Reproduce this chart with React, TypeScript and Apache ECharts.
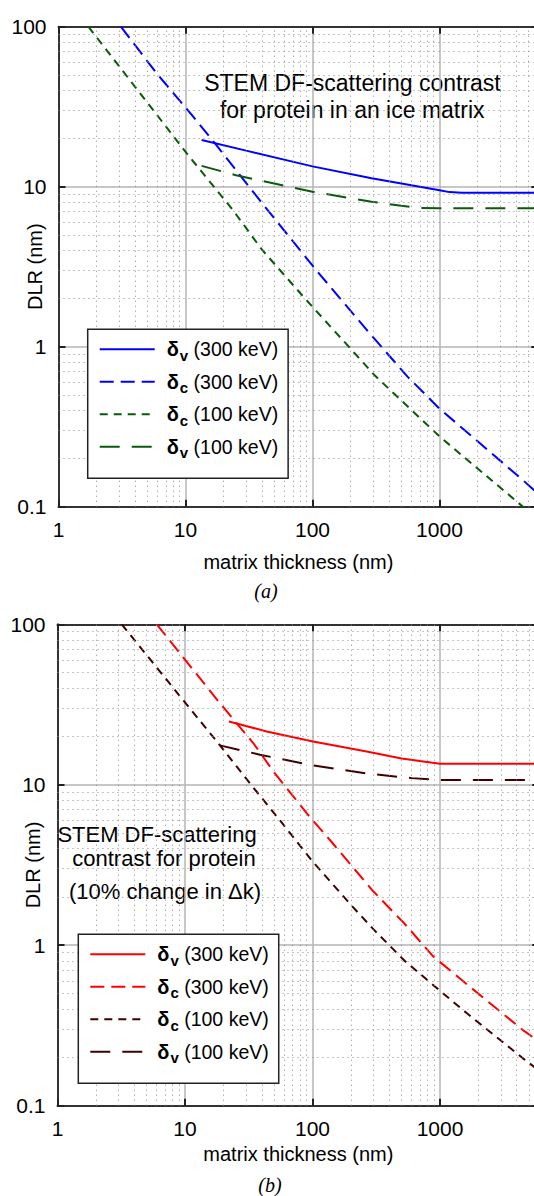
import React, { useEffect, useRef } from "react";
import * as echarts from "echarts";

// ---- data (x: matrix thickness nm, y: DLR nm) ----
const topDeltaV300: [number, number][] = [
  [13.4, 19.6], [30, 16.8], [100, 13.4], [292, 11.3], [600, 10.2],
  [1000, 9.5], [1200, 9.25], [1500, 9.17], [6000, 9.17],
];
const topDeltaC300: [number, number][] = [
  [3.1, 100], [5.93, 51.1], [11.2, 28.1], [17.5, 18.2], [40.2, 7.87], [107, 3.01],
  [275, 1.24], [560, 0.65], [1000, 0.41], [4520, 0.147], [6000, 0.12],
];
const topDeltaC100: [number, number][] = [
  [1.72, 100], [10.2, 16.2], [23.6, 7.15], [40.2, 4.02], [89.3, 1.96], [193, 1.0],
  [310, 0.66], [1000, 0.275], [4540, 0.1], [6000, 0.083],
];
const topDeltaV100: [number, number][] = [
  [13.4, 13.5], [25, 11.8], [49, 10.5], [100, 9.3], [292, 8.06], [500, 7.6],
  [710, 7.35], [1000, 7.33], [6000, 7.33],
];

const botDeltaV300: [number, number][] = [
  [22.1, 24.8], [43.7, 21.5], [101, 18.6], [266, 16.1], [500, 14.6], [1000, 13.5], [6000, 13.5],
];
const botDeltaC300: [number, number][] = [
  [6.0, 100], [18.8, 32.2], [34.3, 18.2], [49.8, 12.0], [90, 6.65], [144, 4.32],
  [293, 2.21], [528, 1.36], [887, 0.85], [1722, 0.55], [4450, 0.297], [6000, 0.25],
];
const botDeltaC100: [number, number][] = [
  [3.19, 100], [10.1, 32.3], [18.8, 17.6], [33, 10.0], [56, 5.95], [101, 3.3], [206, 1.74],
  [300, 1.26], [528, 0.8], [1000, 0.52], [1618, 0.378], [4450, 0.198], [6000, 0.165],
];
const botDeltaV100: [number, number][] = [
  [18.8, 17.6], [38.7, 15.4], [100, 13.2], [280, 11.7], [600, 11.0], [1000, 10.7], [6000, 10.7],
];

const minorX = [2, 3, 4, 5, 6, 7, 8, 9, 20, 30, 40, 50, 60, 70, 80, 90, 200, 300, 400, 500, 600, 700, 800, 900, 2000, 3000, 4000, 5000];
const minorY = [0.2, 0.3, 0.4, 0.5, 0.6, 0.7, 0.8, 0.9, 2, 3, 4, 5, 6, 7, 8, 9, 20, 30, 40, 50, 60, 70, 80, 90];

const X_MIN = 1;
const X_MAX = 6000;
const Y_MIN = 0.1;
const Y_MAX = 100;

const legendLabels: Record<string, [string, string]> = {
  v300a: ["v", "300"], c300a: ["c", "300"], c100a: ["c", "100"], v100a: ["v", "100"],
  v300b: ["v", "300"], c300b: ["c", "300"], c100b: ["c", "100"], v100b: ["v", "100"],
};

const FONT = "Liberation Sans, Arial, sans-serif";

const isPow10 = (v: number) => {
  const l = Math.log10(v);
  return Math.abs(l - Math.round(l)) < 1e-6;
};

export default function App() {
  const ref = useRef<HTMLDivElement>(null);

  useEffect(() => {
    if (!ref.current) return;
    const chart = echarts.init(ref.current, undefined, { renderer: "svg" });

    const grids = [
      { left: 58.5, top: 26.7, width: 479.8, height: 480, outerBoundsMode: "none", containLabel: false },
      { left: 57.5, top: 624.3, width: 481.7, height: 481.4, outerBoundsMode: "none", containLabel: false },
    ];
    const xNameGaps = [45, 38];
    const yNameGaps = [14, 15];

    const frame = { color: "#333", width: 2 };
    const tick = { show: true, inside: true, length: 7, lineStyle: { color: "#222", width: 2 } };

    const xAxis: any[] = [];
    const yAxis: any[] = [];
    grids.forEach((_, i) => {
      xAxis.push({
        type: "log", logBase: 10, gridIndex: i, min: X_MIN, max: X_MAX, position: "bottom",
        axisLine: { show: true, onZero: false, lineStyle: frame },
        axisTick: tick,
        axisLabel: {
          show: true, margin: 12, fontSize: 21, color: "#000", fontFamily: FONT,
          formatter: (v: number) => (isPow10(v) ? String(Math.round(v)) : ""),
        },
        splitLine: { show: true, lineStyle: { color: "#b4b4b4", width: 1.5 } },
        name: "matrix thickness (nm)", nameLocation: "middle", nameGap: xNameGaps[i],
        nameTextStyle: { fontSize: 20, color: "#000", fontFamily: FONT },
      });
      xAxis.push({
        type: "log", logBase: 10, gridIndex: i, min: X_MIN, max: X_MAX, position: "top",
        axisLine: { show: true, onZero: false, lineStyle: frame },
        axisTick: tick, axisLabel: { show: false }, splitLine: { show: false },
      });
      yAxis.push({
        type: "log", logBase: 10, gridIndex: i, min: Y_MIN, max: Y_MAX, position: "left",
        axisLine: { show: true, onZero: false, lineStyle: frame },
        axisTick: tick,
        axisLabel: {
          show: true, margin: 12, fontSize: 21, color: "#000", fontFamily: FONT,
          formatter: (v: number) => (isPow10(v) ? String(Number(v.toPrecision(2))) : ""),
        },
        splitLine: { show: true, lineStyle: { color: "#b4b4b4", width: 1.5 } },
        name: "DLR (nm)", nameLocation: "middle", nameGap: yNameGaps[i], nameRotate: 90,
        nameMoveOverlap: false,
        nameTextStyle: { fontSize: 20, color: "#000", fontFamily: FONT },
      });
      yAxis.push({
        type: "log", logBase: 10, gridIndex: i, min: Y_MIN, max: Y_MAX, position: "right",
        axisLine: { show: true, onZero: false, lineStyle: frame },
        axisTick: tick, axisLabel: { show: false }, splitLine: { show: false },
      });
    });

    const minorSeries = (i: number) => ({
      type: "line", name: "minor" + i, data: [], xAxisIndex: 2 * i, yAxisIndex: 2 * i, z: 1,
      silent: true,
      markLine: {
        silent: true, symbol: ["none", "none"], label: { show: false },
        lineStyle: { type: [1, 4], color: "#8a8a8a", width: 1 },
        emphasis: { disabled: true },
        data: [...minorX.map((v) => ({ xAxis: v })), ...minorY.map((v) => ({ yAxis: v }))],
      },
    });

    const line = (name: string, data: [number, number][], i: number, color: string, type: any) => ({
      type: "line", name, data, xAxisIndex: 2 * i, yAxisIndex: 2 * i, z: 3,
      symbol: "none", showSymbol: false, smooth: false, clip: true,
      lineStyle: { color, width: 2, type },
      itemStyle: { color },
      emphasis: { disabled: true },
    });

    const BLUE = "#0000ff";
    const GREEN = "#0a5a0a";
    const RED = "#ff0000";
    const BROWN = "#400000";

    const legendFormatter = (name: string) => {
      const [sub, kev] = legendLabels[name];
      return `{d|δ}{s|${sub}}{t| (${kev} keV)}`;
    };
    const legendText = {
      fontSize: 19.5, color: "#000", fontFamily: FONT, padding: [0, 0, 0, 7],
      rich: {
        d: { fontSize: 20, fontWeight: "bold", color: "#000", fontFamily: FONT, lineHeight: 24 },
        s: { fontSize: 15, fontWeight: "bold", color: "#000", fontFamily: FONT, padding: [12, 0, 0, 1] },
        t: { fontSize: 19.5, color: "#000", fontFamily: FONT, lineHeight: 24 },
      },
    };
    const legendBase = {
      orient: "vertical", itemWidth: 55, itemHeight: 14, itemGap: 9, selectedMode: false,
      padding: [10, 10, 18, 11], borderColor: "#222", borderWidth: 1.5, backgroundColor: "#fff",
      itemStyle: { opacity: 0 },
      formatter: legendFormatter, textStyle: legendText, z: 10,
    };

    chart.setOption({
      animation: false,
      backgroundColor: "#fff",
      grid: grids,
      xAxis,
      yAxis,
      legend: [
        { ...legendBase, left: 87.7, top: 329.3, data: ["v300a", "c300a", "c100a", "v100a"] },
        { ...legendBase, left: 78.3, top: 934.3, data: ["v300b", "c300b", "c100b", "v100b"] },
      ],
      graphic: [
        { type: "text", x: 352.5, y: 83.3, style: { text: "STEM DF-scattering contrast", font: `23px ${FONT}`, fill: "#000", textAlign: "center", textVerticalAlign: "middle" } },
        { type: "text", x: 352.2, y: 110, style: { text: "for protein in an ice matrix", font: `23px ${FONT}`, fill: "#000", textAlign: "center", textVerticalAlign: "middle" } },
        { type: "text", x: 157, y: 834.3, style: { text: "STEM DF-scattering", font: `22px ${FONT}`, fill: "#000", textAlign: "center", textVerticalAlign: "middle" } },
        { type: "text", x: 164, y: 858.3, style: { text: "contrast for protein", font: `22px ${FONT}`, fill: "#000", textAlign: "center", textVerticalAlign: "middle" } },
        { type: "text", x: 165, y: 891.7, style: { text: "(10% change in Δk)", font: `22px ${FONT}`, fill: "#000", textAlign: "center", textVerticalAlign: "middle" } },
        { type: "text", x: 266, y: 590.7, style: { text: "(a)", font: "italic 20px Liberation Serif, Times New Roman, serif", fill: "#000", textAlign: "center", textVerticalAlign: "middle" } },
        { type: "text", x: 270, y: 1185, style: { text: "(b)", font: "italic 20px Liberation Serif, Times New Roman, serif", fill: "#000", textAlign: "center", textVerticalAlign: "middle" } },
      ],
      series: [
        minorSeries(0),
        minorSeries(1),
        line("v300a", topDeltaV300, 0, BLUE, "solid"),
        line("c300a", topDeltaC300, 0, BLUE, [14, 7]),
        line("c100a", topDeltaC100, 0, GREEN, [8, 6]),
        line("v100a", topDeltaV100, 0, GREEN, [20, 12]),
        line("v300b", botDeltaV300, 1, RED, "solid"),
        line("c300b", botDeltaC300, 1, RED, [14, 7]),
        line("c100b", botDeltaC100, 1, BROWN, [8, 6]),
        line("v100b", botDeltaV100, 1, BROWN, [20, 12]),
      ],
    });

    return () => chart.dispose();
  }, []);

  return (
    <div style={{ position: "fixed", left: 0, top: 0, width: 534, height: 1196, overflow: "hidden", background: "#fff" }}>
      <div ref={ref} style={{ width: 600, height: 1196 }} />
    </div>
  );
}
